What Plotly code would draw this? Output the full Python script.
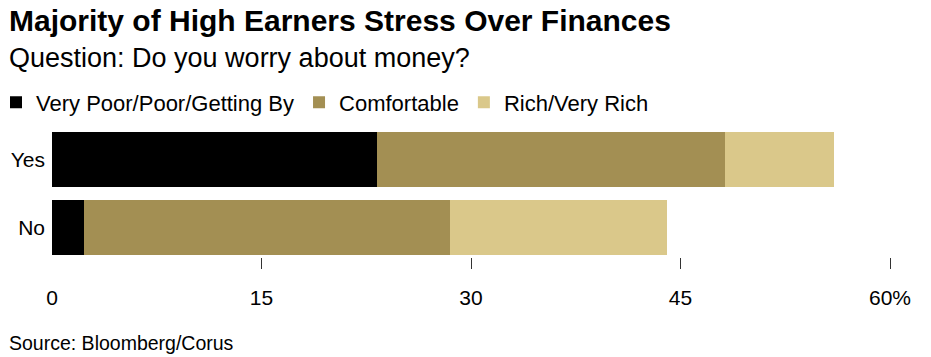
import plotly.graph_objects as go

categories = ["Yes", "No"]
series_names = ["Very Poor/Poor/Getting By", "Comfortable", "Rich/Very Rich"]
poor_vals = [23.3, 2.3]
comfortable_vals = [24.9, 26.2]
rich_vals = [7.8, 15.5]
colors = ["#000000", "#A38F53", "#DAC88A"]
tick_vals = [0, 15, 30, 45, 60]
tick_text = ["0", "15", "30", "45", "60%"]

FONT = "Liberation Sans, Arial, sans-serif"

fig = go.Figure()
for name, vals, col in zip(series_names, [poor_vals, comfortable_vals, rich_vals], colors):
    fig.add_trace(go.Bar(
        y=categories, x=vals, name=name, orientation="h",
        marker=dict(color=col, line=dict(width=0)),
        hoverinfo="x+name",
    ))

PLOT_TOP = 126
PLOT_BOTTOM = 257
PH = PLOT_BOTTOM - PLOT_TOP

def py(p):
    return (PLOT_BOTTOM - p) / PH

L = 52
R = 41
PW = 931 - L - R

def px(p):
    return (p - L) / PW

fig.update_layout(
    width=931, height=357,
    margin=dict(l=L, r=R, t=PLOT_TOP, b=357 - PLOT_BOTTOM, pad=0, autoexpand=False),
    barmode="stack",
    bargap=0.2,
    plot_bgcolor="white",
    paper_bgcolor="white",
    font=dict(family=FONT, color="#000000"),
    showlegend=True,
    legend=dict(
        orientation="h",
        xref="paper", yref="paper",
        x=px(-4), xanchor="left",
        y=py(102.5), yanchor="middle",
        font=dict(size=22, family=FONT, color="#000000"),
        traceorder="normal",
        itemclick=False, itemdoubleclick=False,
        bgcolor="rgba(0,0,0,0)",
    ),
    xaxis=dict(
        range=[0, 60],
        tickmode="array",
        tickvals=tick_vals,
        ticktext=tick_text,
        ticks="",
        showgrid=False,
        zeroline=False,
        showline=False,
        tickfont=dict(size=21, family=FONT, color="#000000"),
        ticklabelstandoff=26,
        minor=dict(
            tickmode="array",
            tickvals=tick_vals[1:],
            ticks="outside",
            ticklen=11,
            tickwidth=1,
            tickcolor="#333333",
            showgrid=False,
        ),
        fixedrange=True,
    ),
    yaxis=dict(
        categoryorder="array",
        categoryarray=categories,
        range=[1.432, -0.493],
        showgrid=False,
        zeroline=False,
        showline=False,
        ticks="",
        tickfont=dict(size=21, family=FONT, color="#000000"),
        ticklabelstandoff=6,
        fixedrange=True,
    ),
    annotations=[
        dict(text="<b>Majority of High Earners Stress Over Finances</b>",
             xref="paper", yref="paper", x=px(7), y=py(20),
             xanchor="left", yanchor="middle", showarrow=False,
             font=dict(size=30, family=FONT, color="#000000")),
        dict(text="Question: Do you worry about money?",
             xref="paper", yref="paper", x=px(7), y=py(58),
             xanchor="left", yanchor="middle", showarrow=False,
             font=dict(size=27, family=FONT, color="#000000")),
        dict(text="Source: Bloomberg/Corus",
             xref="paper", yref="paper", x=px(7), y=py(343),
             xanchor="left", yanchor="middle", showarrow=False,
             font=dict(size=19.5, family=FONT, color="#000000")),
    ],
)

fig.write_html(
    "out.html",
    config={"displayModeBar": False},
    post_script="document.body.style.margin='0';document.body.style.padding='0';",
)
